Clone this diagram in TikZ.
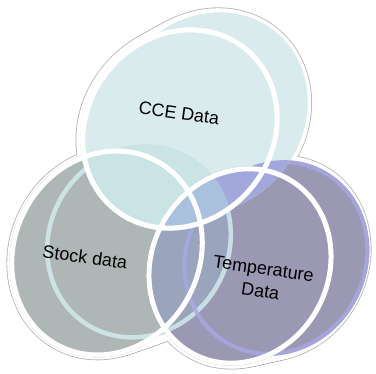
\documentclass[tikz,border=0pt]{standalone}
\usepackage{fontspec}
\setmainfont{Liberation Sans}
\usetikzlibrary{calc}
\definecolor{rimc}{HTML}{B4B4B4}
\definecolor{ccec}{HTML}{D9EBEC}
\definecolor{stockc}{HTML}{AEB6B6}
\definecolor{tempc}{HTML}{9B98B3}
\definecolor{ccestockc}{HTML}{CAE4E6}
\definecolor{ccetempc}{HTML}{A2A8DC}
\definecolor{stocktempc}{HTML}{9AA4BC}
\definecolor{allc}{HTML}{A9C1DD}
\definecolor{stockringc}{HTML}{D5EDEE}
\definecolor{tempringc}{HTML}{A9A9E5}

\def\cceshape{(cceF) ellipse [x radius=106, y radius=95, rotate=50] (cceB) ellipse [x radius=105, y radius=94, rotate=50]}
\def\stockshape{(stockF) ellipse [x radius=107, y radius=95, rotate=62] (stockB) ellipse [x radius=100, y radius=92, rotate=58]}
\def\tempshape{(tempF) ellipse [x radius=102, y radius=91, rotate=62] (tempB) ellipse [x radius=100, y radius=91, rotate=60]}

\begin{document}
\begin{tikzpicture}[x=1pt,y=-1pt,
  lbl/.style={font=\fontsize{18}{23}\selectfont, align=center, inner sep=0pt, rotate=-8}]
\useasboundingbox (0,0) rectangle (376,374);
\coordinate (cceF) at (180,129);
\coordinate (cceB) at (209,113);
\coordinate (stockF) at (107,253);
\coordinate (stockB) at (139,242);
\coordinate (tempF) at (240,266);
\coordinate (tempB) at (276,258);

% thin grey edge, then white glow
\foreach \f/\b/\ra/\rb/\rot/\m in {cceF/cceB/106/95/50/4, stockF/stockB/107/95/62/2, tempF/tempB/102/91/62/3}
  \foreach \t in {0,0.05,...,1}
    \fill[rimc] ($(\f)!\t!(\b)$) ellipse [x radius=\ra+\m+0.8, y radius=\rb+\m+0.8, rotate=\rot];
\foreach \f/\b/\ra/\rb/\rot/\m in {cceF/cceB/106/95/50/4, stockF/stockB/107/95/62/2, tempF/tempB/102/91/62/3}
  \foreach \t in {0,0.05,...,1}
    \fill[white] ($(\f)!\t!(\b)$) ellipse [x radius=\ra+\m, y radius=\rb+\m, rotate=\rot];

% lower sets
\fill[stockc] \stockshape;
\fill[tempc] \tempshape;
\begin{scope}
  \clip \stockshape;
  \fill[stocktempc] \tempshape;
\end{scope}

% back rims
\draw[stockringc, line width=4.5pt, opacity=0.8] (stockB) ellipse [x radius=97.5, y radius=89.5, rotate=58];
\draw[tempringc, line width=4pt, opacity=0.8] (tempB) ellipse [x radius=98, y radius=89, rotate=60];

% top set and overlaps
\fill[ccec] \cceshape;
\begin{scope}
  \clip \cceshape;
  \fill[ccestockc] \stockshape;
  \fill[ccetempc] \tempshape;
  \clip \stockshape;
  \fill[allc] \tempshape;
\end{scope}

% front rims
\draw[white, line width=5pt] (cceF) ellipse [x radius=103.5, y radius=92.5, rotate=50];
\draw[white, line width=5pt] (stockF) ellipse [x radius=104.5, y radius=92.5, rotate=62];
\draw[white, line width=5pt] (tempF) ellipse [x radius=99.5, y radius=88.5, rotate=62];

\node[lbl] (cceL) at (179,113) {CCE Data};
\node[lbl] (stockL) at (85,257) {Stock data};
\node[lbl] (tempL) at (262,280) {Temperature\\Data};
\end{tikzpicture}
\end{document}
